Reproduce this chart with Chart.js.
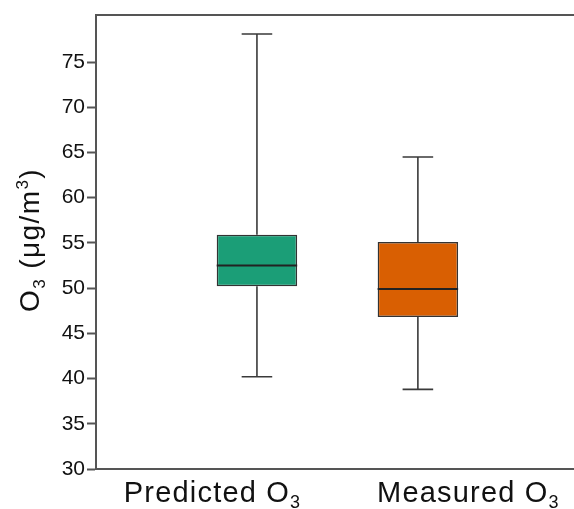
<!DOCTYPE html>
<html>
<head>
<meta charset="utf-8">
<script src="https://cdn.jsdelivr.net/npm/chart.js@4/dist/chart.umd.min.js"></script>
<style>
  html, body { margin: 0; padding: 0; background: #fff; }
  #wrap { width: 574px; height: 509px; }
</style>
</head>
<body>
<div id="wrap"><canvas id="chart"></canvas></div>
<script>
// Box plot values
const categories = ["Predicted O", "Measured O"];
const positions = [1, 2];
const whiskerLow = [40.2, 38.8];
const q1 = [50.2, 46.8];
const median = [52.5, 49.9];
const q3 = [55.9, 55.1];
const whiskerHigh = [78.1, 64.5];
const boxColors = ["#1b9e77", "#d95f02"];
const yTicks = [30, 35, 40, 45, 50, 55, 60, 65, 70, 75];

const axisColor = "#555";
const lineColor = "#3a3a3a";
const textColor = "#111";
const fontFamily = "Liberation Sans, Arial, sans-serif";

// x label centres sit off the boxes in the original figure (in x-scale units)
const labelCenters = [0.724, 2.314];

// draw text parts, with "sub"/"sup" parts smaller and shifted
function drawRich(ctx, parts, cx, baseline, size, spacing) {
  const small = Math.round(size * 0.62);
  ctx.letterSpacing = spacing + "px";
  let total = 0;
  parts.forEach((p) => {
    ctx.font = (p.sub || p.sup ? small : size) + "px " + fontFamily;
    total += ctx.measureText(p.t).width;
  });
  let x = cx - total / 2;
  ctx.textAlign = "left";
  ctx.textBaseline = "alphabetic";
  parts.forEach((p) => {
    ctx.font = (p.sub || p.sup ? small : size) + "px " + fontFamily;
    let dy = 0;
    if (p.sub) dy = size * 0.22;
    if (p.sup) dy = -size * 0.38;
    ctx.fillText(p.t, x, baseline + dy);
    x += ctx.measureText(p.t).width;
  });
  ctx.letterSpacing = "0px";
}

// whiskers, caps, median lines, top frame and labels with sub/superscripts
const boxPlotExtras = {
  id: "boxPlotExtras",
  beforeDatasetsDraw(chart) {
    const { ctx, scales } = chart;
    const x = scales.x, y = scales.y;
    ctx.save();
    ctx.strokeStyle = lineColor;
    ctx.lineWidth = 1.6;
    for (let i = 0; i < positions.length; i++) {
      const cx = x.getPixelForValue(positions[i]);
      const capL = x.getPixelForValue(positions[i] - 0.095);
      const capR = x.getPixelForValue(positions[i] + 0.095);
      ctx.beginPath();
      ctx.moveTo(cx, y.getPixelForValue(whiskerHigh[i]));
      ctx.lineTo(cx, y.getPixelForValue(q3[i]));
      ctx.moveTo(cx, y.getPixelForValue(q1[i]));
      ctx.lineTo(cx, y.getPixelForValue(whiskerLow[i]));
      ctx.moveTo(capL, y.getPixelForValue(whiskerHigh[i]));
      ctx.lineTo(capR, y.getPixelForValue(whiskerHigh[i]));
      ctx.moveTo(capL, y.getPixelForValue(whiskerLow[i]));
      ctx.lineTo(capR, y.getPixelForValue(whiskerLow[i]));
      ctx.stroke();
    }
    ctx.restore();
  },
  afterDatasetsDraw(chart) {
    const { ctx, scales } = chart;
    const x = scales.x, y = scales.y;
    const area = chart.chartArea;
    ctx.save();
    ctx.strokeStyle = "#222";
    ctx.lineWidth = 2;
    for (let i = 0; i < positions.length; i++) {
      const my = y.getPixelForValue(median[i]);
      ctx.beginPath();
      ctx.moveTo(x.getPixelForValue(positions[i] - 0.25), my);
      ctx.lineTo(x.getPixelForValue(positions[i] + 0.25), my);
      ctx.stroke();
    }
    // top frame line
    ctx.strokeStyle = axisColor;
    ctx.lineWidth = 2;
    ctx.beginPath();
    ctx.moveTo(area.left - 1, area.top);
    ctx.lineTo(area.right, area.top);
    ctx.stroke();

    // category labels
    ctx.fillStyle = textColor;
    for (let i = 0; i < categories.length; i++) {
      drawRich(ctx, [{ t: categories[i] }, { t: "3", sub: true }],
        x.getPixelForValue(labelCenters[i]), area.bottom + 33, 29, 1.2);
    }

    // y axis title
    ctx.translate(29, (area.top + area.bottom) / 2 - 2);
    ctx.rotate(-Math.PI / 2);
    drawRich(ctx, [
      { t: "O" }, { t: "3", sub: true }, { t: " (\u03bcg/m" }, { t: "3", sup: true }, { t: ")" }
    ], 0, 10, 28, 1.4);
    ctx.restore();
  }
};

const ctx = document.getElementById("chart").getContext("2d");
new Chart(ctx, {
  type: "bar",
  data: {
    datasets: [
      {
        label: "IQR",
        data: positions.map((p, i) => ({ x: p, y: [q1[i], q3[i]] })),
        backgroundColor: boxColors,
        borderColor: "#333",
        borderWidth: 1.5,
        borderSkipped: false,
        categoryPercentage: 1,
        barPercentage: 0.5
      }
    ]
  },
  options: {
    responsive: true,
    maintainAspectRatio: false,
    animation: false,
    layout: { padding: { top: 15, right: 0, left: 0, bottom: 0 } },
    plugins: {
      legend: { display: false },
      tooltip: { enabled: false }
    },
    scales: {
      x: {
        type: "linear",
        offset: false,
        min: 0,
        max: 2.97,
        afterBuildTicks: (scale) => {
          scale.ticks = positions.map((p) => ({ value: p }));
        },
        afterFit: (scale) => { scale.height = 40; },
        ticks: { display: false },
        grid: { display: false, drawTicks: false, offset: false },
        border: { display: true, color: axisColor, width: 2 }
      },
      y: {
        min: 30,
        max: 80.2,
        afterBuildTicks: (scale) => {
          scale.ticks = yTicks.map((v) => ({ value: v }));
        },
        afterFit: (scale) => { scale.width = 96; },
        ticks: {
          color: textColor,
          font: { family: fontFamily, size: 21 },
          padding: 2
        },
        grid: {
          drawOnChartArea: false,
          drawTicks: true,
          tickLength: 9,
          tickColor: axisColor,
          tickWidth: 2
        },
        border: { display: true, color: axisColor, width: 2 }
      }
    }
  },
  plugins: [boxPlotExtras]
});
</script>
</body>
</html>
